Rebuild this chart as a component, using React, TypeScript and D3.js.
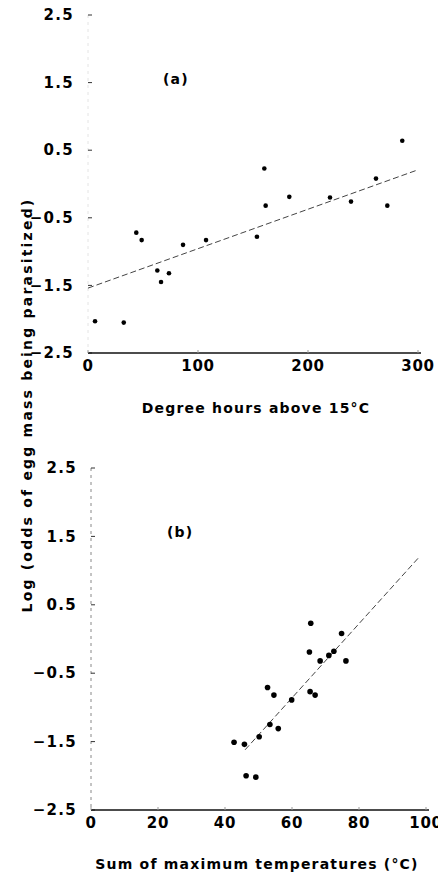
import React from "react";
import * as d3 from "d3";

// panel (a): degree hours above 15°C vs log odds
const degreeHours = [6.4, 32.5, 43.9, 48.8, 63, 66.4, 73.6, 86.4, 107.3, 153.6, 161.5, 160.3, 183, 220, 239.1, 261.8, 272.1, 285.7];
const logOddsA = [-2.03, -2.05, -0.72, -0.83, -1.28, -1.45, -1.32, -0.9, -0.83, -0.78, -0.32, 0.23, -0.19, -0.2, -0.26, 0.08, -0.32, 0.64];
const fitA = [[0, -1.54], [300, 0.21]];

// panel (b): sum of maximum temperatures vs log odds
const sumMaxTemp = [65.6, 74.8, 65.2, 68.4, 71, 72.5, 76.1, 52.7, 54.6, 59.9, 65.4, 66.9, 53.4, 55.9, 50.2, 42.7, 45.8, 46.3, 49.2];
const logOddsB = [0.23, 0.08, -0.19, -0.32, -0.24, -0.18, -0.32, -0.71, -0.82, -0.89, -0.77, -0.82, -1.25, -1.31, -1.43, -1.51, -1.54, -2.0, -2.02];
const fitB = [[46, -1.62], [98, 1.2]];

const yTicks = [2.5, 1.5, 0.5, -0.5, -1.5, -2.5];
const xTicksA = [0, 100, 200, 300];
const xTicksB = [0, 20, 40, 60, 80, 100];

const FONT = "'DejaVu Sans', Verdana, sans-serif";

const fmt = (d: number) => (d < 0 ? "\u2212" + Math.abs(d).toFixed(1) : d.toFixed(1));

const textStyle = {
  fontFamily: FONT,
  fontWeight: "bold" as const,
  fill: "#000",
};

type PanelProps = {
  xs: number[];
  ys: number[];
  fit: number[][];
  x: d3.ScaleLinear<number, number>;
  y: d3.ScaleLinear<number, number>;
  xTicks: number[];
  tag: string;
  tagPos: number[];
  r: number;
  yAxisColor: string;
};

const Panel = ({ xs, ys, fit, x, y, xTicks, tag, tagPos, r, yAxisColor }: PanelProps) => {
  const x0 = x.range()[0];
  const [yBottom, yTop] = y.range();
  return (
    <g>
      {/* y axis: faint dashed spine, short inner ticks */}
      <line x1={x0} x2={x0} y1={yTop} y2={yBottom} stroke={yAxisColor} strokeDasharray="3 4" />
      {yTicks.map((t) => (
        <g key={t} transform={`translate(${x0},${y(t)})`}>
          <line x1={0} x2={4} stroke="#333" />
          <text x={-14} dy="0.34em" textAnchor="end" fontSize={15} letterSpacing={1.3} {...textStyle}>
            {fmt(t)}
          </text>
        </g>
      ))}

      {/* x axis */}
      <line x1={x.range()[0]} x2={x.range()[1] + 3} y1={yBottom} y2={yBottom} stroke="#111" strokeWidth={1.4} />
      {xTicks.map((t) => (
        <g key={t} transform={`translate(${x(t)},${yBottom})`}>
          <line y1={0} y2={-3} stroke="#999" />
          <text y={7} dy="0.71em" textAnchor="middle" fontSize={15} letterSpacing={0.8} {...textStyle}>
            {t}
          </text>
        </g>
      ))}

      {/* fitted line */}
      <line
        x1={x(fit[0][0])}
        y1={y(fit[0][1])}
        x2={x(fit[1][0])}
        y2={y(fit[1][1])}
        stroke="#444"
        strokeWidth={1}
        strokeDasharray="6 3"
      />

      {xs.map((v, i) => (
        <circle key={i} cx={x(v)} cy={y(ys[i])} r={r} fill="#000" />
      ))}

      <text x={tagPos[0]} y={tagPos[1]} fontSize={14} letterSpacing={1.2} {...textStyle}>
        {tag}
      </text>
    </g>
  );
};

const App = () => {
  const xA = d3.scaleLinear().domain([0, 300]).range([88, 418]);
  const yA = d3.scaleLinear().domain([-2.5, 2.5]).range([353, 15]);
  const xB = d3.scaleLinear().domain([0, 100]).range([91, 426]);
  const yB = d3.scaleLinear().domain([-2.5, 2.5]).range([810, 468]);

  const labelProps = { fontSize: 14, letterSpacing: 1.2, textAnchor: "middle" as const, ...textStyle };

  return (
    <svg
      width={446}
      height={873}
      style={{ display: "block", marginTop: -8, marginLeft: -8, background: "#fff" }}
    >
      <Panel
        xs={degreeHours}
        ys={logOddsA}
        fit={fitA}
        x={xA}
        y={yA}
        xTicks={xTicksA}
        tag="(a)"
        tagPos={[163, 84]}
        r={2.3}
        yAxisColor="#e4e4e4"
      />
      <Panel
        xs={sumMaxTemp}
        ys={logOddsB}
        fit={fitB}
        x={xB}
        y={yB}
        xTicks={xTicksB}
        tag="(b)"
        tagPos={[167, 537]}
        r={2.8}
        yAxisColor="#888"
      />
      <text x={256} y={413} {...labelProps}>
        Degree hours above 15°C
      </text>
      <text x={257} y={869} {...labelProps}>
        Sum of maximum temperatures (°C)
      </text>
      <text transform="translate(32,405) rotate(-90)" {...labelProps} letterSpacing={2.2}>
        Log (odds of egg mass being parasitized)
      </text>
    </svg>
  );
};

export default App;
